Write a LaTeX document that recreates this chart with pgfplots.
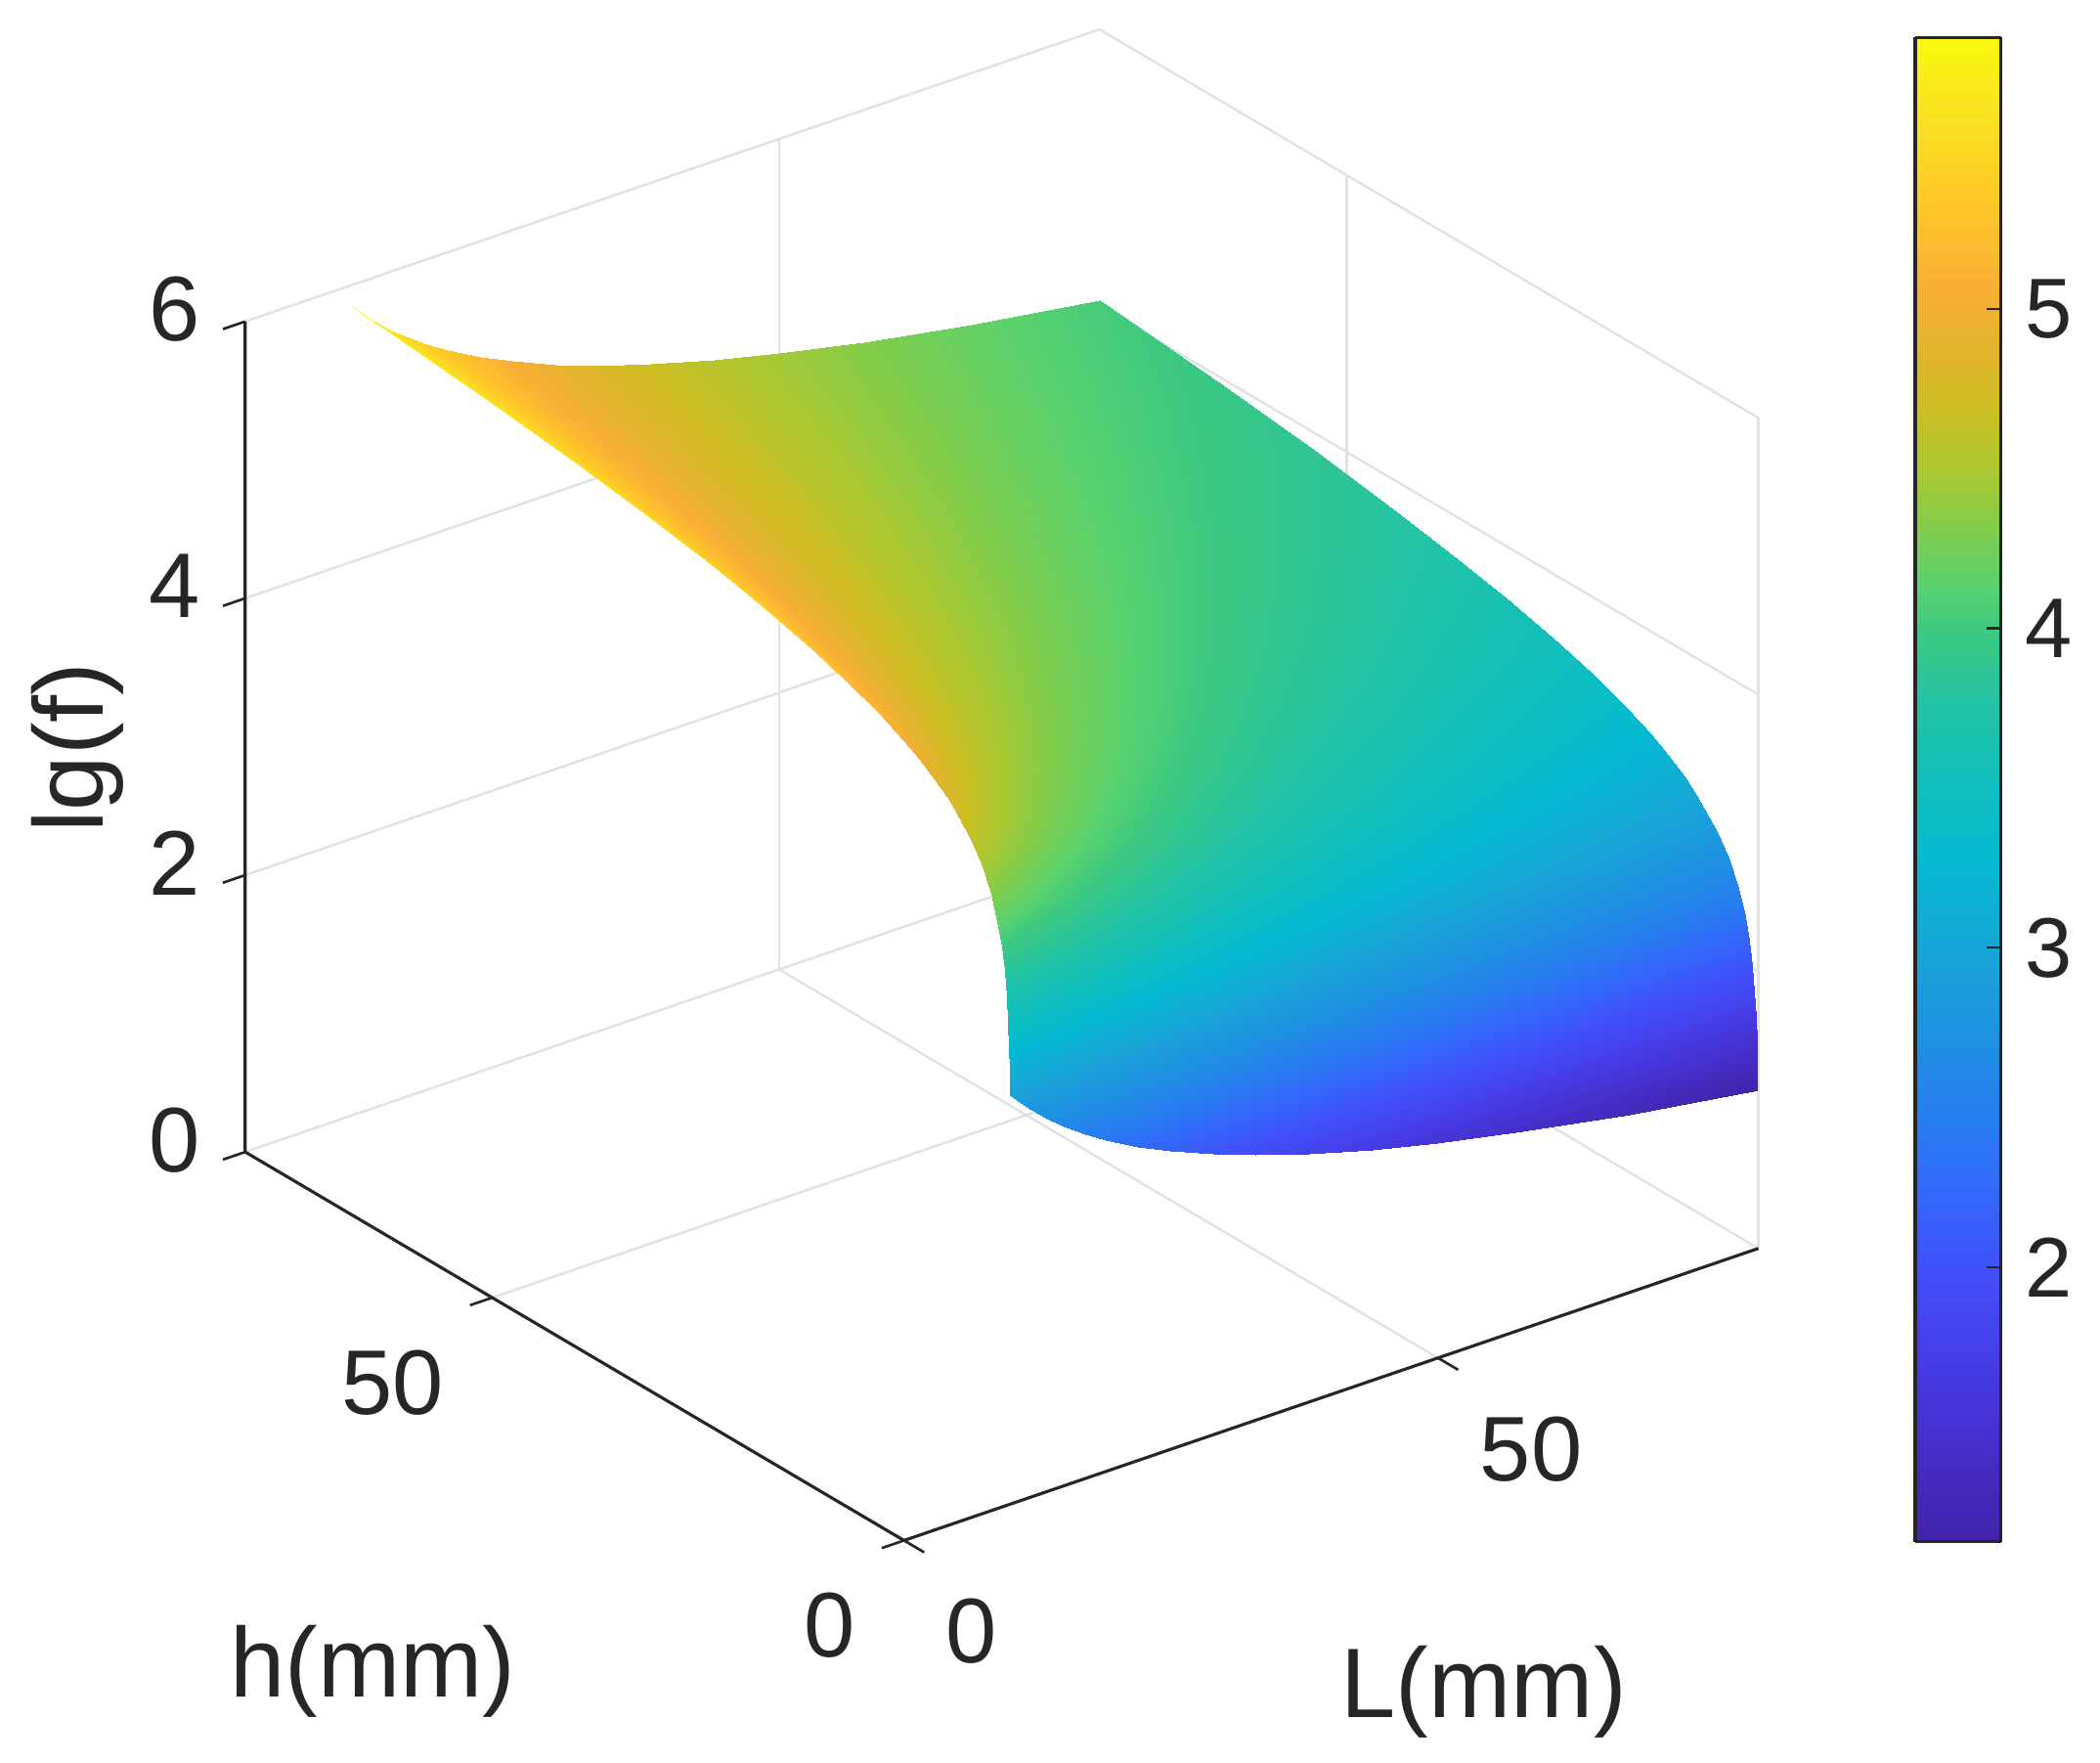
\documentclass[border=0pt]{standalone}
\usepackage{fontspec}
\setmainfont{Liberation Sans}
\usepackage{pgfplots}
\pgfplotsset{compat=1.18}
\definecolor{gridgray}{RGB}{226,226,226}
\definecolor{axisblack}{RGB}{38,38,38}
\pgfplotsset{
  colormap={boosted}{
    rgb255(115pt)=(65,35,170) rgb255(144pt)=(70,45,200) rgb255(171pt)=(70,60,230)
    rgb255(200pt)=(65,80,250) rgb255(226pt)=(50,105,250) rgb255(246pt)=(40,125,240)
    rgb255(273pt)=(30,145,225) rgb255(300pt)=(25,165,215) rgb255(328pt)=(5,185,210)
    rgb255(350pt)=(15,190,190) rgb255(377pt)=(35,195,165) rgb255(400pt)=(60,200,130)
    rgb255(415pt)=(90,210,110) rgb255(433pt)=(130,205,75) rgb255(450pt)=(170,200,50)
    rgb255(470pt)=(205,190,35) rgb255(487pt)=(225,180,45) rgb255(508pt)=(250,175,55)
    rgb255(535pt)=(255,200,40) rgb255(561pt)=(250,225,35) rgb255(586pt)=(250,250,15)
  }
}
\begin{document}
\begin{tikzpicture}
\path[use as bounding box] (0,0) rectangle (15.68,-13.16);
\begin{axis}[
    at={(6.75cm,-11.50cm)}, anchor=origin,
    x={(0.07975cm,0.02725cm)}, y={(-0.0615cm,0.03625cm)}, z={(0cm,1.0333cm)},
    xmin=0, xmax=80, ymin=0, ymax=80, zmin=0, zmax=6,
    clip=false,
    xtick={0,50}, ytick={0,50}, ztick={0,2,4,6},
    grid=major,
    grid style={gridgray, line width=0.5pt},
    axis line style={draw=none},
    major tick length=0pt,
    tick style={draw=none},
    /pgf/number format/assume math mode=true,
    tick label style={font=\fontsize{19.5}{24}\selectfont, text=axisblack},
    xticklabel style={anchor=west, xshift=0.19cm, yshift=-0.68cm},
    yticklabel style={anchor=east, xshift=-0.24cm, yshift=-0.635cm},
    zticklabel style={anchor=center, xshift=-0.53cm, yshift=0.09cm},
    label style={font=\fontsize{21}{25}\selectfont, text=axisblack},
    xlabel={L(mm)}, ylabel={h(mm)}, zlabel={lg(f)},
    xlabel style={at={(axis cs:19.82,-44.7,0)}, anchor=center, yshift=-0.05cm},
    ylabel style={at={(axis cs:-44,7.45,0)}, anchor=center, yshift=-0.05cm},
    zlabel style={at={(axis cs:0,100.3,2.21)}, anchor=center, rotate=0},
    colormap name=boosted,
    point meta min=1.14, point meta max=5.85,
    colorbar sampled,
    colorbar style={
      at={(parent axis.north east)}, anchor=north west,
      xshift=0.87cm, yshift=-0.06cm,
      width=0.64cm, height=11.23cm,
      samples=120,
      ytick={2,3,4,5},
      yticklabel pos=right, ytick pos=right,
      tick align=inside, major tick length=3pt,
      ymin=1.14, ymax=5.85,
      axis line style={draw=axisblack, line width=0.7pt},
      tick style={draw=axisblack, line width=0.5pt},
      yticklabel style={font=\fontsize{18}{22}\selectfont, text=axisblack, xshift=0.06cm},
      /pgf/number format/assume math mode=true,
    },
]
\addplot3[surf, shader=interp, mesh/cols=17, mesh/rows=24] coordinates {
(10,0.1,2.947) (11,0.1,2.864) (12,0.1,2.789) (13.5,0.1,2.686) (15,0.1,2.595) (17,0.1,2.486) (19,0.1,2.389) (22,0.1,2.262) (25,0.1,2.151) (29,0.1,2.022) (33,0.1,1.910) (38,0.1,1.787) (44,0.1,1.660) (50,0.1,1.549) (58,0.1,1.420) (68,0.1,1.282) (80,0.1,1.141)
(10,0.15,3.123) (11,0.15,3.040) (12,0.15,2.965) (13.5,0.15,2.862) (15,0.15,2.771) (17,0.15,2.662) (19,0.15,2.565) (22,0.15,2.438) (25,0.15,2.327) (29,0.15,2.198) (33,0.15,2.086) (38,0.15,1.963) (44,0.15,1.836) (50,0.15,1.725) (58,0.15,1.596) (68,0.15,1.458) (80,0.15,1.317)
(10,0.22,3.289) (11,0.22,3.206) (12,0.22,3.131) (13.5,0.22,3.028) (15,0.22,2.937) (17,0.22,2.828) (19,0.22,2.731) (22,0.22,2.604) (25,0.22,2.493) (29,0.22,2.364) (33,0.22,2.252) (38,0.22,2.129) (44,0.22,2.002) (50,0.22,1.891) (58,0.22,1.762) (68,0.22,1.624) (80,0.22,1.483)
(10,0.33,3.465) (11,0.33,3.382) (12,0.33,3.307) (13.5,0.33,3.204) (15,0.33,3.113) (17,0.33,3.004) (19,0.33,2.907) (22,0.33,2.780) (25,0.33,2.669) (29,0.33,2.540) (33,0.33,2.428) (38,0.33,2.305) (44,0.33,2.178) (50,0.33,2.067) (58,0.33,1.938) (68,0.33,1.800) (80,0.33,1.659)
(10,0.5,3.646) (11,0.5,3.563) (12,0.5,3.488) (13.5,0.5,3.385) (15,0.5,3.294) (17,0.5,3.185) (19,0.5,3.088) (22,0.5,2.961) (25,0.5,2.850) (29,0.5,2.721) (33,0.5,2.609) (38,0.5,2.486) (44,0.5,2.359) (50,0.5,2.248) (58,0.5,2.119) (68,0.5,1.981) (80,0.5,1.840)
(10,0.75,3.822) (11,0.75,3.739) (12,0.75,3.664) (13.5,0.75,3.561) (15,0.75,3.470) (17,0.75,3.361) (19,0.75,3.264) (22,0.75,3.137) (25,0.75,3.026) (29,0.75,2.897) (33,0.75,2.785) (38,0.75,2.662) (44,0.75,2.535) (50,0.75,2.424) (58,0.75,2.295) (68,0.75,2.157) (80,0.75,2.016)
(10,1.1,3.988) (11,1.1,3.905) (12,1.1,3.830) (13.5,1.1,3.727) (15,1.1,3.636) (17,1.1,3.527) (19,1.1,3.430) (22,1.1,3.303) (25,1.1,3.192) (29,1.1,3.063) (33,1.1,2.951) (38,1.1,2.828) (44,1.1,2.701) (50,1.1,2.590) (58,1.1,2.461) (68,1.1,2.323) (80,1.1,2.182)
(10,1.6,4.151) (11,1.6,4.068) (12,1.6,3.993) (13.5,1.6,3.890) (15,1.6,3.799) (17,1.6,3.690) (19,1.6,3.593) (22,1.6,3.466) (25,1.6,3.355) (29,1.6,3.226) (33,1.6,3.114) (38,1.6,2.991) (44,1.6,2.864) (50,1.6,2.753) (58,1.6,2.624) (68,1.6,2.486) (80,1.6,2.345)
(10,2.4,4.327) (11,2.4,4.244) (12,2.4,4.169) (13.5,2.4,4.066) (15,2.4,3.975) (17,2.4,3.866) (19,2.4,3.769) (22,2.4,3.642) (25,2.4,3.531) (29,2.4,3.402) (33,2.4,3.290) (38,2.4,3.167) (44,2.4,3.040) (50,2.4,2.929) (58,2.4,2.800) (68,2.4,2.662) (80,2.4,2.521)
(10,3.6,4.503) (11,3.6,4.420) (12,3.6,4.345) (13.5,3.6,4.242) (15,3.6,4.151) (17,3.6,4.042) (19,3.6,3.945) (22,3.6,3.818) (25,3.6,3.707) (29,3.6,3.578) (33,3.6,3.466) (38,3.6,3.343) (44,3.6,3.216) (50,3.6,3.105) (58,3.6,2.976) (68,3.6,2.838) (80,3.6,2.697)
(10,5,4.646) (11,5,4.563) (12,5,4.488) (13.5,5,4.385) (15,5,4.294) (17,5,4.185) (19,5,4.088) (22,5,3.961) (25,5,3.850) (29,5,3.721) (33,5,3.609) (38,5,3.486) (44,5,3.359) (50,5,3.248) (58,5,3.119) (68,5,2.981) (80,5,2.840)
(10,7.5,4.822) (11,7.5,4.739) (12,7.5,4.664) (13.5,7.5,4.561) (15,7.5,4.470) (17,7.5,4.361) (19,7.5,4.264) (22,7.5,4.137) (25,7.5,4.026) (29,7.5,3.897) (33,7.5,3.785) (38,7.5,3.662) (44,7.5,3.535) (50,7.5,3.424) (58,7.5,3.295) (68,7.5,3.157) (80,7.5,3.016)
(10,9,4.901) (11,9,4.818) (12,9,4.743) (13.5,9,4.640) (15,9,4.549) (17,9,4.440) (19,9,4.343) (22,9,4.216) (25,9,4.105) (29,9,3.976) (33,9,3.864) (38,9,3.741) (44,9,3.614) (50,9,3.503) (58,9,3.374) (68,9,3.236) (80,9,3.095)
(10,11,4.988) (11,11,4.905) (12,11,4.830) (13.5,11,4.727) (15,11,4.636) (17,11,4.527) (19,11,4.430) (22,11,4.303) (25,11,4.192) (29,11,4.063) (33,11,3.951) (38,11,3.828) (44,11,3.701) (50,11,3.590) (58,11,3.461) (68,11,3.323) (80,11,3.182)
(10,13,5.061) (11,13,4.978) (12,13,4.903) (13.5,13,4.800) (15,13,4.709) (17,13,4.600) (19,13,4.503) (22,13,4.376) (25,13,4.265) (29,13,4.136) (33,13,4.024) (38,13,3.901) (44,13,3.774) (50,13,3.663) (58,13,3.534) (68,13,3.396) (80,13,3.255)
(10,16,5.151) (11,16,5.068) (12,16,4.993) (13.5,16,4.890) (15,16,4.799) (17,16,4.690) (19,16,4.593) (22,16,4.466) (25,16,4.355) (29,16,4.226) (33,16,4.114) (38,16,3.991) (44,16,3.864) (50,16,3.753) (58,16,3.624) (68,16,3.486) (80,16,3.345)
(10,20,5.248) (11,20,5.165) (12,20,5.090) (13.5,20,4.987) (15,20,4.896) (17,20,4.787) (19,20,4.690) (22,20,4.563) (25,20,4.452) (29,20,4.323) (33,20,4.211) (38,20,4.088) (44,20,3.961) (50,20,3.850) (58,20,3.721) (68,20,3.583) (80,20,3.442)
(10,24,5.327) (11,24,5.244) (12,24,5.169) (13.5,24,5.066) (15,24,4.975) (17,24,4.866) (19,24,4.769) (22,24,4.642) (25,24,4.531) (29,24,4.402) (33,24,4.290) (38,24,4.167) (44,24,4.040) (50,24,3.929) (58,24,3.800) (68,24,3.662) (80,24,3.521)
(10,30,5.424) (11,30,5.341) (12,30,5.266) (13.5,30,5.163) (15,30,5.072) (17,30,4.963) (19,30,4.866) (22,30,4.739) (25,30,4.628) (29,30,4.499) (33,30,4.387) (38,30,4.264) (44,30,4.137) (50,30,4.026) (58,30,3.897) (68,30,3.759) (80,30,3.618)
(10,36,5.503) (11,36,5.420) (12,36,5.345) (13.5,36,5.242) (15,36,5.151) (17,36,5.042) (19,36,4.945) (22,36,4.818) (25,36,4.707) (29,36,4.578) (33,36,4.466) (38,36,4.343) (44,36,4.216) (50,36,4.105) (58,36,3.976) (68,36,3.838) (80,36,3.697)
(10,44,5.590) (11,44,5.507) (12,44,5.432) (13.5,44,5.329) (15,44,5.238) (17,44,5.129) (19,44,5.032) (22,44,4.905) (25,44,4.794) (29,44,4.665) (33,44,4.553) (38,44,4.430) (44,44,4.303) (50,44,4.192) (58,44,4.063) (68,44,3.925) (80,44,3.784)
(10,54,5.679) (11,54,5.596) (12,54,5.521) (13.5,54,5.418) (15,54,5.327) (17,54,5.218) (19,54,5.121) (22,54,4.994) (25,54,4.883) (29,54,4.754) (33,54,4.642) (38,54,4.519) (44,54,4.392) (50,54,4.281) (58,54,4.152) (68,54,4.014) (80,54,3.873)
(10,65,5.760) (11,65,5.677) (12,65,5.602) (13.5,65,5.499) (15,65,5.408) (17,65,5.299) (19,65,5.202) (22,65,5.075) (25,65,4.964) (29,65,4.835) (33,65,4.723) (38,65,4.600) (44,65,4.473) (50,65,4.362) (58,65,4.233) (68,65,4.095) (80,65,3.954)
(10,80,5.850) (11,80,5.767) (12,80,5.692) (13.5,80,5.589) (15,80,5.498) (17,80,5.389) (19,80,5.292) (22,80,5.165) (25,80,5.054) (29,80,4.925) (33,80,4.813) (38,80,4.690) (44,80,4.563) (50,80,4.452) (58,80,4.323) (68,80,4.185) (80,80,4.044)
};
\draw[axisblack, line width=0.65pt] (axis cs:80,0,0) -- (axis cs:0,0,0) -- (axis cs:0,80,0) -- (axis cs:0,80,6);
\draw[axisblack, line width=0.55pt] (axis cs:0,0,0) -- (axis cs:0,-2.45,0);
\draw[axisblack, line width=0.55pt] (axis cs:50,0,0) -- (axis cs:50,-2.45,0);
\draw[axisblack, line width=0.55pt] (axis cs:0,0,0) -- (axis cs:-2.08,0,0);
\draw[axisblack, line width=0.55pt] (axis cs:0,50,0) -- (axis cs:-2.08,50,0);
\draw[axisblack, line width=0.55pt] (axis cs:0,80,0) -- (axis cs:-2.08,80,0);
\draw[axisblack, line width=0.55pt] (axis cs:0,80,2) -- (axis cs:-2.08,80,2);
\draw[axisblack, line width=0.55pt] (axis cs:0,80,4) -- (axis cs:-2.08,80,4);
\draw[axisblack, line width=0.55pt] (axis cs:0,80,6) -- (axis cs:-2.08,80,6);
\end{axis}
\end{tikzpicture}
\end{document}
